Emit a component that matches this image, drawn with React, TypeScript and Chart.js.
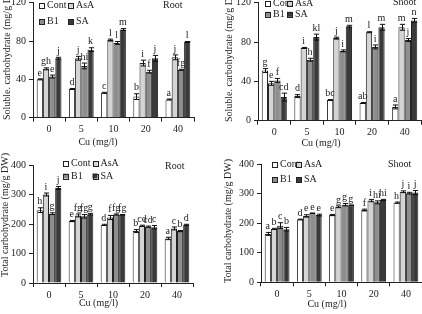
import React, { useEffect, useRef } from 'react';
import { Chart, registerables } from 'chart.js';
Chart.register(...registerables);

const cuLevels = ['0', '5', '10', '20', '40'];
const treatments = ['Cont', 'AsA', 'B1', 'SA'];
const barColors = ['#ffffff', '#d4d4d4', '#8e8e8e', '#3a3a3a'];

// Root soluble carbohydrate (rows: Cont, AsA, B1, SA)
const rootSolubleValues = [
  [40, 30, 26, 22, 19],
  [51, 62, 81, 57, 63],
  [43, 54, 78, 48, 50],
  [62, 71, 92, 62, 79],
];
const rootSolubleErrors = [
  [0.5, 0.5, 0.5, 3, 0.5],
  [1, 2, 1, 3, 2.5],
  [1.5, 3, 1.5, 1.5, 0.5],
  [1, 2, 1, 3, 0.5],
];
const rootSolubleLetters = [
  ['e', 'd', 'c', 'b', 'a'],
  ['gh', 'j', 'l', 'i', 'j'],
  ['e', 'hi', 'l', 'f', 'fg'],
  ['j', 'k', 'm', 'j', 'l'],
];

// Shoot soluble carbohydrate
const shootSolubleValues = [
  [51, 25, 21, 18, 14],
  [38, 74, 84, 90, 95],
  [41, 62, 71, 75, 82],
  [24, 85, 96, 95, 102],
];
const shootSolubleErrors = [
  [2, 1.5, 0.5, 0.5, 2],
  [2, 0.5, 1, 0.5, 3],
  [2, 1.5, 1, 2, 1.5],
  [4, 3, 1, 3, 2],
];
const shootSolubleLetters = [
  ['g', 'd', 'bc', 'ab', 'a'],
  ['e', 'i', 'j', 'l', 'm'],
  ['f', 'h', 'i', 'i', 'j'],
  ['cd', 'kl', 'm', 'm', 'n'],
];

// Root total carbohydrate
const rootTotalValues = [
  [247, 210, 197, 176, 151],
  [300, 229, 222, 194, 185],
  [235, 226, 232, 191, 176],
  [322, 233, 231, 189, 197],
];
const rootTotalErrors = [
  [8, 2, 2, 5, 4],
  [5, 5, 7, 2, 5],
  [3, 6, 2, 2, 2],
  [5, 3, 1, 6, 2],
];
const rootTotalLetters = [
  ['h', 'e', 'd', 'b', 'a'],
  ['i', 'fg', 'f', 'cd', 'c'],
  ['g', 'fg', 'fg', 'cd', 'b'],
  ['j', 'g', 'fg', 'c', 'd'],
];

// Shoot total carbohydrate
const shootTotalValues = [
  [164, 213, 228, 245, 270],
  [181, 225, 256, 277, 307],
  [192, 234, 263, 271, 302],
  [180, 228, 261, 279, 304],
];
const shootTotalErrors = [
  [5, 1, 2, 3, 2],
  [2, 4, 3, 4, 3],
  [10, 1, 4, 5, 3],
  [6, 3, 1, 2, 7],
];
const shootTotalLetters = [
  ['a', 'd', 'e', 'f', 'h'],
  ['b', 'e', 'g', 'i', 'j'],
  ['c', 'e', 'g', 'hi', 'i'],
  ['b', 'e', 'g', 'hi', 'j'],
];

const FONT = '"Liberation Serif", "Times New Roman", serif';
const M = 12;
const PW = 211;
const PH = 157;

const panels = [
  {
    key: 'rs', left: 0, top: 0, plotLeft: 33, plotRight: 194, plotTop: 2.7, plotBottom: 117.7,
    yMax: 120, step: 40, values: rootSolubleValues, errors: rootSolubleErrors, letters: rootSolubleLetters,
    yTitle: 'Soluble. carbohydrate (mg/g DW)', yTitleX: 7, yTitleBottom: 120,
    xTitleX: 98, xTitleY: 142.5, tag: 'Root', tagX: 163, tagY: 5,
    legCol: [39, 68], legRow: [5.3, 21.7],
  },
  {
    key: 'ss', left: 211, top: 0, plotLeft: 47, plotRight: 210, plotTop: 2.7, plotBottom: 120.7,
    yMax: 120, step: 40, values: shootSolubleValues, errors: shootSolubleErrors, letters: shootSolubleLetters,
    yTitle: 'Soluble. carbohydrate (mg/g DW)', yTitleX: 18, yTitleBottom: 122,
    xTitleX: 110, xTitleY: 143.3, tag: 'Shoot', tagX: 182, tagY: 2.7,
    legCol: [54, 76], legRow: [3, 14.3],
  },
  {
    key: 'rt', left: 0, top: 157, plotLeft: 33, plotRight: 193, plotTop: 8, plotBottom: 126,
    yMax: 400, step: 100, values: rootTotalValues, errors: rootTotalErrors, letters: rootTotalLetters,
    yTitle: 'Total carbohydrate (mg/g DW)', yTitleX: 5, yTitleBottom: 120,
    xTitleX: 98.5, xTitleY: 146, tag: 'Root', tagX: 165, tagY: 9,
    legCol: [63, 92.5], legRow: [6.7, 19],
  },
  {
    key: 'st', left: 211, top: 157, plotLeft: 50, plotRight: 211, plotTop: 7.3, plotBottom: 125.3,
    yMax: 400, step: 100, values: shootTotalValues, errors: shootTotalErrors, letters: shootTotalLetters,
    yTitle: 'Total carbohydrate (mg/g DW)', yTitleX: 17, yTitleBottom: 126,
    xTitleX: 116, xTitleY: 147, tag: 'Shoot', tagX: 177, tagY: 7.3,
    legCol: [61, 85], legRow: [7.3, 22.7],
  },
];

function Panel({ cfg }: { cfg: any }) {
  const ref = useRef<HTMLCanvasElement>(null);
  useEffect(() => {
    const canvas = ref.current;
    if (!canvas) return;
    const W = PW + 2 * M;
    const H = PH + 2 * M;
    const xHeight = 20;
    const decor = {
      id: 'decor' + cfg.key,
      afterDatasetsDraw(chart: any) {
        const ctx = chart.ctx;
        const ys = chart.scales.y;
        ctx.save();
        ctx.strokeStyle = '#111';
        ctx.lineWidth = 1;
        ctx.fillStyle = '#222';
        ctx.font = '10px ' + FONT;
        ctx.textAlign = 'center';
        ctx.textBaseline = 'bottom';
        chart.data.datasets.forEach((ds: any, di: number) => {
          const meta = chart.getDatasetMeta(di);
          meta.data.forEach((bar: any, i: number) => {
            const v = cfg.values[di][i];
            const e = cfg.errors[di][i];
            const yT = ys.getPixelForValue(v + e);
            const yB = ys.getPixelForValue(v - e);
            const x = Math.round(bar.x) + 0.5;
            const hw = bar.width * 0.42;
            ctx.beginPath();
            ctx.moveTo(x, yT);
            ctx.lineTo(x, yB);
            ctx.moveTo(x - hw, yT);
            ctx.lineTo(x + hw, yT);
            ctx.moveTo(x - hw, yB);
            ctx.lineTo(x + hw, yB);
            ctx.stroke();
            ctx.fillText(cfg.letters[di][i], bar.x, yT - 1);
          });
        });
        ctx.restore();
      },
      afterDraw(chart: any) {
        const ctx = chart.ctx;
        ctx.save();
        ctx.fillStyle = '#222';
        ctx.font = '10px ' + FONT;
        // legend
        ctx.textBaseline = 'middle';
        ctx.textAlign = 'left';
        treatments.forEach((t, k) => {
          const col = k % 2;
          const row = Math.floor(k / 2);
          const bx = cfg.legCol[col] + M;
          const by = cfg.legRow[row] + M;
          ctx.fillStyle = barColors[k];
          ctx.fillRect(bx, by - 2.5, 5, 5);
          ctx.strokeStyle = '#222';
          ctx.lineWidth = 1;
          ctx.strokeRect(Math.round(bx) + 0.5, Math.round(by - 2.5) + 0.5, 5, 5);
          ctx.fillStyle = '#222';
          ctx.fillText(t, bx + 8, by);
        });
        // tag
        ctx.fillText(cfg.tag, cfg.tagX + M, cfg.tagY + M);
        // x title
        ctx.textAlign = 'center';
        ctx.fillText('Cu (mg/l)', cfg.xTitleX + M, cfg.xTitleY + M);
        // y title
        ctx.translate(cfg.yTitleX + M, cfg.yTitleBottom + M);
        ctx.rotate(-Math.PI / 2);
        ctx.textAlign = 'left';
        ctx.fillText(cfg.yTitle, 0, 0);
        ctx.restore();
      },
    };
    const chart = new Chart(canvas, {
      type: 'bar',
      data: {
        labels: cuLevels,
        datasets: treatments.map((t, k) => ({
          label: t,
          data: cfg.values[k],
          backgroundColor: barColors[k],
          borderColor: '#222',
          borderWidth: 1,
          categoryPercentage: 0.77,
          barPercentage: 1.0,
        })),
      },
      options: {
        responsive: false,
        animation: false,
        devicePixelRatio: 1,
        layout: {
          padding: {
            left: 0,
            right: PW + M - cfg.plotRight,
            top: cfg.plotTop + M,
            bottom: PH + M - cfg.plotBottom - xHeight,
          },
        },
        plugins: {
          legend: { display: false },
          tooltip: { enabled: false },
          title: { display: false },
        },
        scales: {
          x: {
            type: 'category',
            grid: { display: true, drawOnChartArea: false, drawTicks: true, tickLength: 4, color: '#222', offset: true },
            border: { display: true, color: '#222', width: 1 },
            ticks: { color: '#222', font: { family: FONT, size: 10 }, padding: 2, maxRotation: 0 },
            afterFit: (s: any) => { s.height = xHeight; },
          },
          y: {
            min: 0,
            max: cfg.yMax,
            grid: { display: true, drawOnChartArea: false, drawTicks: true, tickLength: 4, color: '#222' },
            border: { display: true, color: '#222', width: 1 },
            ticks: { stepSize: cfg.step, color: '#222', font: { family: FONT, size: 10 }, padding: 3 },
            afterFit: (s: any) => { s.width = cfg.plotLeft + M; },
          },
        },
      },
      plugins: [decor],
    } as any);
    return () => chart.destroy();
  }, [cfg]);
  return (
    <canvas
      ref={ref}
      width={PW + 2 * M}
      height={PH + 2 * M}
      style={{ position: 'absolute', left: cfg.left - M, top: cfg.top - M, width: PW + 2 * M, height: PH + 2 * M }}
    />
  );
}

export default function App() {
  return (
    <div style={{ position: 'absolute', left: 0, top: 0, width: 422, height: 314, overflow: 'hidden', background: '#fff' }}>
      {panels.map((p) => (
        <Panel key={p.key} cfg={p} />
      ))}
    </div>
  );
}
